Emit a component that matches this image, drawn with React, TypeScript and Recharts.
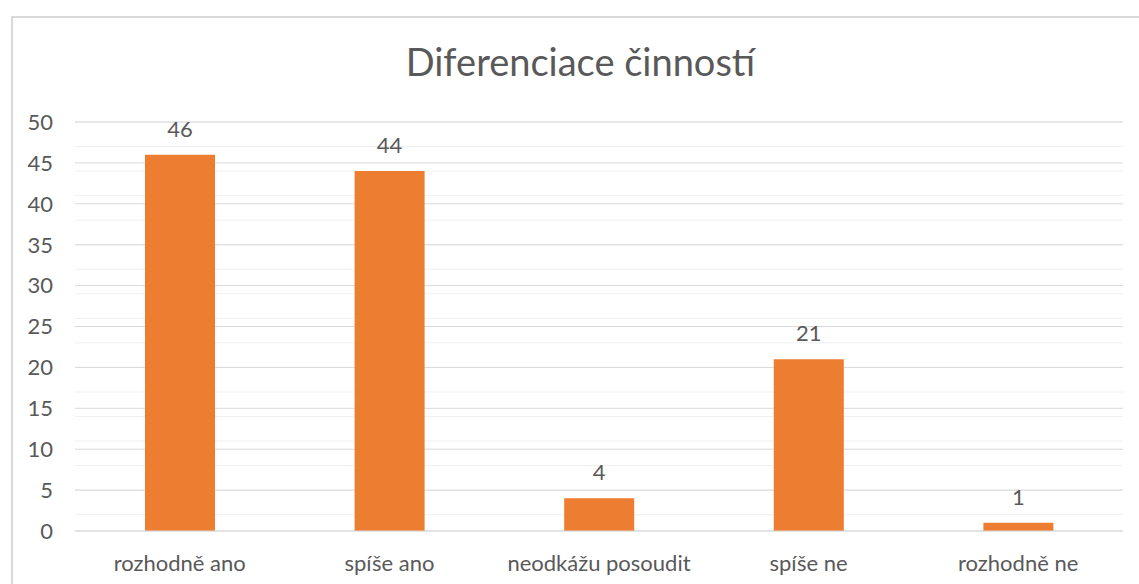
import { Bar, BarChart, CartesianGrid, LabelList, XAxis, YAxis } from 'recharts';

const CATEGORIES = ['rozhodně ano', 'spíše ano', 'neodkážu posoudit', 'spíše ne', 'rozhodně ne'];
const COUNTS = [46, 44, 4, 21, 1];
const Y_TICKS = [0, 5, 10, 15, 20, 25, 30, 35, 40, 45, 50];
const TITLE = 'Diferenciace činností';

// minor grid every 1 unit, major every 5
const MINOR_LINES = Array.from({ length: 51 }, (_, i) => i);

const FONT = 'Lato, "Open Sans", sans-serif';
const TEXT = '#595959';
const ORANGE = '#ED7D31';

const data = CATEGORIES.map((name, i) => ({ name, value: COUNTS[i] }));

export default function App() {
  return (
    <div
      style={{
        position: 'absolute',
        left: 0,
        top: 0,
        width: 1139,
        height: 584,
        overflow: 'hidden',
        background: '#fff',
        fontFamily: FONT,
      }}
    >
      <div
        style={{
          position: 'absolute',
          left: 11,
          top: 16,
          width: 1200,
          height: 700,
          border: '2px solid #d9d9d9',
        }}
      />
      <div
        style={{
          position: 'absolute',
          left: 11,
          top: 39,
          width: 1139,
          textAlign: 'center',
          fontSize: 38,
          lineHeight: 1.2,
          color: TEXT,
        }}
      >
        {TITLE}
      </div>
      <div style={{ position: 'absolute', left: 0, top: 0 }}>
        <BarChart
          width={1139}
          height={584}
          data={data}
          margin={{ top: 122, right: 16, bottom: 0, left: 0 }}
        >
          <CartesianGrid horizontalValues={MINOR_LINES} vertical={false} stroke="#f0f0f0" strokeWidth={1} />
          <CartesianGrid horizontalValues={Y_TICKS} vertical={false} stroke="#d9d9d9" strokeWidth={1} />
          <XAxis
            dataKey="name"
            tickLine={false}
            axisLine={{ stroke: '#d9d9d9' }}
            tickSize={6}
            tickMargin={18}
            height={53}
            tick={{ fill: TEXT, fontSize: 22, fontFamily: FONT }}
            interval={0}
          />
          <YAxis
            domain={[0, 50]}
            ticks={Y_TICKS}
            tickLine={false}
            axisLine={false}
            width={75}
            tickSize={6}
            tickMargin={16}
            tick={{ fill: TEXT, fontSize: 22, fontFamily: FONT }}
          />
          <Bar dataKey="value" fill={ORANGE} barSize={70} isAnimationActive={false}>
            <LabelList dataKey="value" position="top" offset={18} fill={TEXT} fontSize={22} fontFamily={FONT} />
          </Bar>
        </BarChart>
      </div>
    </div>
  );
}
